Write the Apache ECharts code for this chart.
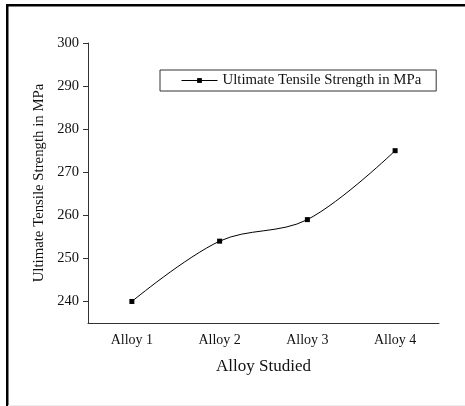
<!DOCTYPE html>
<html>
<head>
<meta charset="utf-8">
<title>Ultimate Tensile Strength</title>
<script src="https://cdn.jsdelivr.net/npm/echarts@6/dist/echarts.min.js"></script>
<style>
    html, body { margin: 0; padding: 0; background: #fff; }
    #box { width: 465px; height: 406px; }
</style>
</head>
<body>
<div id="box"></div>
<script>
// 数据
var alloys = ["Alloy 1", "Alloy 2", "Alloy 3", "Alloy 4"];
var strength = [240, 254, 259, 275];
var yTicks = [240, 250, 260, 270, 280, 290, 300];

var myChart = echarts.init(document.getElementById('box'));
var serif = "'Liberation Serif', 'Times New Roman', serif";

var option = {
    backgroundColor: '#fff',
    animation: false,
    // 外框 (只有上边和左边)
    graphic: [
        { type: 'rect', shape: { x: 6, y: 4, width: 459, height: 2.5 }, style: { fill: '#000' } },
        { type: 'rect', shape: { x: 6, y: 4, width: 2.5, height: 402 }, style: { fill: '#000' } },
        { type: 'rect', shape: { x: 8, y: 405, width: 457, height: 1 }, style: { fill: '#ececec' } }
    ],
    grid: {
        left: 88,
        right: 26,
        top: 43,
        bottom: 83
    },
    // 图例
    legend: {
        left: 160,
        top: 70,
        padding: [3, 15, 3, 21],
        borderColor: '#333',
        borderWidth: 1,
        itemWidth: 36,
        itemHeight: 6,
        lineStyle: { width: 1 },
        textStyle: { fontFamily: serif, fontSize: 14.8, color: '#111' },
        data: ["Ultimate Tensile Strength in MPa"]
    },
    // x轴
    xAxis: {
        type: 'category',
        data: alloys,
        name: "Alloy Studied",
        nameLocation: 'middle',
        nameGap: 35,
        nameTextStyle: { fontFamily: serif, fontSize: 17, color: '#111' },
        axisLine: { lineStyle: { color: '#333', width: 1 } },
        axisTick: { alignWithLabel: true, length: 5, lineStyle: { color: '#333' } },
        axisLabel: { fontFamily: serif, fontSize: 14, color: '#111', margin: 10 },
        splitLine: { show: false }
    },
    // y轴
    yAxis: {
        type: 'value',
        min: 235,
        max: 300,
        name: "Ultimate Tensile Strength in MPa",
        nameLocation: 'middle',
        nameGap: 36,
        nameTextStyle: { fontFamily: serif, fontSize: 14.8, color: '#111' },
        axisLine: { show: true, lineStyle: { color: '#333', width: 1 } },
        axisTick: { show: true, length: 5, customValues: yTicks, lineStyle: { color: '#333' } },
        axisLabel: { fontFamily: serif, fontSize: 14.5, color: '#111', margin: 9, customValues: yTicks },
        splitLine: { show: false }
    },
    series: [{
        name: "Ultimate Tensile Strength in MPa",
        type: 'line',
        smooth: 0.35,
        data: strength,
        symbol: 'rect',
        symbolSize: 5,
        itemStyle: { color: '#000' },
        lineStyle: { color: '#000', width: 1 }
    }]
};

myChart.setOption(option);
</script>
</body>
</html>
